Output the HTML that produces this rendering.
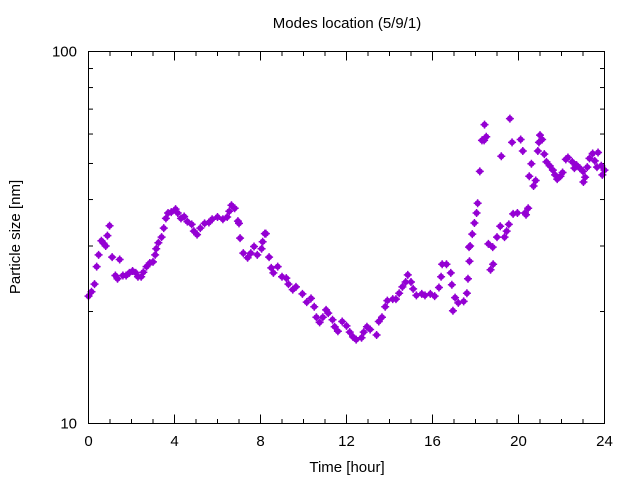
<!DOCTYPE html>
<html><head><meta charset="utf-8"><style>
body{margin:0;background:#fff}
svg text{font-family:"Liberation Sans","DejaVu Sans",sans-serif;font-size:15px;fill:#000}
</style></head><body>
<svg id="chart" width="640" height="480" viewBox="0 0 640 480">
<rect width="640" height="480" fill="#fff"/>
<text x="347" y="28" text-anchor="middle">Modes location (5/9/1)</text>
<text x="347" y="472" text-anchor="middle">Time [hour]</text>
<text transform="translate(20,237) rotate(-90)" text-anchor="middle">Particle size [nm]</text>
<g id="axes"></g>
<g id="marks"></g>
<rect x="88.5" y="51.5" width="516" height="372" fill="none" stroke="#000" stroke-width="1"/>
</svg>
<script>
const hours=[0,0.14,0.28,0.38,0.47,0.6,0.7,0.8,0.88,0.98,1.1,1.25,1.35,1.45,1.6,1.75,1.9,2.05,2.2,2.3,2.45,2.55,2.7,2.85,3.0,3.1,3.15,3.25,3.4,3.5,3.6,3.7,3.85,4.05,4.15,4.3,4.45,4.6,4.8,4.9,5.05,5.2,5.4,5.6,5.75,6.0,6.25,6.45,6.55,6.65,6.8,6.95,7.0,7.05,7.2,7.4,7.55,7.7,7.85,8.05,8.1,8.2,8.25,8.4,8.5,8.6,8.8,9.0,9.2,9.3,9.5,9.65,9.95,10.15,10.35,10.5,10.6,10.75,10.9,11.05,11.15,11.35,11.45,11.6,11.8,12.0,12.15,12.3,12.45,12.7,12.8,12.95,13.1,13.4,13.5,13.65,13.8,13.9,14.15,14.3,14.45,14.6,14.75,14.85,15.0,15.1,15.25,15.5,15.65,15.9,16.1,16.3,16.4,16.45,16.65,16.85,16.9,16.95,17.05,17.2,17.45,17.6,17.65,17.7,17.72,17.75,17.85,17.95,18.05,18.1,18.2,18.3,18.4,18.5,18.42,18.6,18.8,18.7,18.82,19.0,19.2,19.35,19.45,19.55,19.15,19.6,19.7,19.75,19.95,20.1,20.2,20.3,20.45,20.35,20.5,20.6,20.7,20.8,20.9,20.95,21.0,21.1,21.2,21.3,21.45,21.6,21.7,21.8,21.95,22.05,22.2,22.3,22.5,22.6,22.7,22.85,23.0,23.02,23.1,23.2,23.3,23.45,23.55,23.65,23.7,23.85,23.9,24.0];
const sizes=[22,22.6,23.7,26.4,28.4,31,30.5,30,32,34,28,25,24.5,27.6,25,25,25.4,25.7,25.4,24.8,24.8,25.5,26.4,27,27.2,28.4,29.5,30.6,31.7,33.5,35.6,36.8,37,37.7,36.8,35.6,36,34.9,34.3,32.9,32.2,33.5,34.5,34.7,35.4,35.9,35.4,35.9,37.2,38.6,37.9,35,34.5,31.5,28.7,27.9,28.7,29.9,28.4,29.5,30.8,32.4,32.4,28,26.2,25.4,26.4,24.8,24.6,23.7,22.9,23.3,22.3,21.2,21.7,20.6,19.3,18.7,19.3,20.2,19.8,19,18.2,17.7,18.8,18.3,17.6,17.1,16.8,17,17.6,18.2,17.9,17.3,18.8,19.3,20.6,21.4,21.6,21.6,22.4,23.3,24,25.1,24,23,22.1,22.3,22.1,22.3,22,23.2,24.8,26.8,26.8,25.4,23.6,20.1,21.8,21.1,21.3,22.4,24.5,29.8,27.3,30,32.3,34.6,36.8,39.1,47.6,57.7,57.7,59,63.6,30.4,29.8,25.9,26.8,31.7,52.3,31.7,32.9,34.3,33.9,66,57,36.6,36.8,58,54,36.8,37.9,36.4,46.2,49.9,43.5,45,54,57,59.6,58,53,50.5,49.3,48,46.6,45.4,46.2,47.3,51.3,51.9,50.5,48.6,49.5,48.6,47.6,44.6,45.9,48.9,51.6,53.2,50.8,48.9,53.5,49.3,46.6,48];
const xTicks=[0,4,8,12,16,20,24];
const yTicks=[10,100];
const X0=88.5,X1=604.5,Y0=423.5,Y1=51.5;
const xs=h=>X0+(h/24)*(X1-X0);
const ys=v=>Y0-(Math.log10(v)-1)*(Y0-Y1);
const NS='http://www.w3.org/2000/svg';
const axes=document.getElementById('axes'),marks=document.getElementById('marks');
function line(x1,y1,x2,y2,name){const l=document.createElementNS(NS,'line');l.setAttribute('x1',x1);l.setAttribute('y1',y1);l.setAttribute('x2',x2);l.setAttribute('y2',y2);l.setAttribute('stroke','#000');


axes.appendChild(l);}
for(let h=0;h<=24;h++){const x=xs(h);const len=(h%4===0)?9:4.5;line(x,Y0,x,Y0-len,'x-tick');line(x,Y1,x,Y1+len,'x-tick');}
xTicks.forEach(h=>{const t=document.createElementNS(NS,'text');t.setAttribute('x',xs(h));t.setAttribute('y',446);t.setAttribute('text-anchor','middle');t.textContent=h;


axes.appendChild(t);});
for(let v=10;v<=100;v+=10){const y=ys(v);const len=(v===10||v===100)?9:4.5;line(X0,y,X0+len,y,'y-tick');line(X1,y,X1-len,y,'y-tick');}
yTicks.forEach(v=>{const t=document.createElementNS(NS,'text');t.setAttribute('x',77);t.setAttribute('y',ys(v)+5);t.setAttribute('text-anchor','end');t.textContent=v;


axes.appendChild(t);});
hours.forEach((h,i)=>{const g=document.createElementNS(NS,'g');const x=xs(h),y=ys(sizes[i]);


const c=document.createElementNS(NS,'circle');c.setAttribute('cx',x);c.setAttribute('cy',y);c.setAttribute('r',3);c.setAttribute('fill','#9400d3');g.appendChild(c);
const p=document.createElementNS(NS,'path');p.setAttribute('d',`M${x-4},${y}H${x+4}M${x},${y-4}V${y+4}`);p.setAttribute('stroke','#9400d3');p.setAttribute('stroke-width','1.5');g.appendChild(p);
marks.appendChild(g);});
</script>
</body></html>
